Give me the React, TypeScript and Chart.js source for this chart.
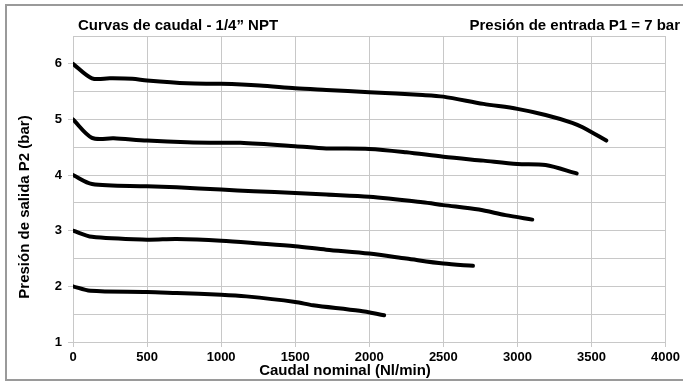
import React, { useEffect, useRef } from "react";
import { Chart, registerables } from "chart.js";

Chart.register(...registerables);

const chartTitle = "Curvas de caudal - 1/4\u201D NPT";
const chartSubtitle = "Presión de entrada P1 = 7 bar";
const xAxisTitle = "Caudal nominal (Nl/min)";
const yAxisTitle = "Presión de salida P2 (bar)";

const flow6 = [0, 128, 250, 400, 500, 770, 1000, 1260, 1500, 1710, 2000, 2360, 2500, 2770, 3000, 3190, 3370, 3440, 3600];
const p6 = [6.0, 5.74, 5.74, 5.73, 5.7, 5.65, 5.64, 5.61, 5.56, 5.53, 5.49, 5.44, 5.41, 5.28, 5.19, 5.08, 4.94, 4.86, 4.62];

const flow5 = [0, 128, 275, 500, 770, 1000, 1130, 1500, 1710, 2000, 2250, 2500, 2770, 3000, 3190, 3400];
const p5 = [5.0, 4.67, 4.66, 4.62, 4.59, 4.58, 4.58, 4.52, 4.48, 4.47, 4.41, 4.33, 4.26, 4.2, 4.18, 4.03];

const flow4 = [0, 128, 500, 700, 1000, 1220, 1500, 1710, 2000, 2360, 2500, 2740, 2920, 3100];
const p4 = [4.0, 3.84, 3.8, 3.78, 3.74, 3.71, 3.68, 3.65, 3.61, 3.51, 3.46, 3.38, 3.28, 3.2];

const flow3 = [0, 128, 500, 700, 1000, 1260, 1500, 1710, 2000, 2250, 2500, 2700];
const p3 = [3.0, 2.89, 2.84, 2.85, 2.82, 2.77, 2.72, 2.66, 2.59, 2.5, 2.41, 2.37];

const flow2 = [0, 117, 500, 700, 1000, 1170, 1500, 1620, 1935, 2100];
const p2 = [2.0, 1.92, 1.9, 1.88, 1.85, 1.82, 1.72, 1.66, 1.56, 1.48];

const xMin = 0;
const xMax = 4000;
const xStep = 500;
const yMin = 1;
const yMax = 6.5;
const yStep = 0.5;

const FONT = "'Liberation Sans', Arial, Helvetica, sans-serif";

function toPoints(xs: number[], ys: number[]) {
  return xs.map((x, i) => ({ x, y: ys[i] }));
}

const textPlugin = {
  id: "customTexts",
  afterDraw(chart: any) {
    const ctx = chart.ctx;
    ctx.save();
    ctx.fillStyle = "#000";
    ctx.font = `bold 15px ${FONT}`;
    ctx.textBaseline = "alphabetic";
    ctx.textAlign = "left";
    ctx.fillText(chartTitle, 78, 30);
    ctx.textAlign = "right";
    ctx.fillText(chartSubtitle, 680, 30);
    ctx.textAlign = "center";
    ctx.textBaseline = "middle";
    ctx.fillText(xAxisTitle, 345, 371);
    ctx.translate(25, 207);
    ctx.rotate(-Math.PI / 2);
    ctx.fillText(yAxisTitle, 0, 0);
    ctx.restore();
  },
};

function ChartView() {
  const ref = useRef<HTMLCanvasElement | null>(null);
  useEffect(() => {
    if (!ref.current) return;
    const mk = (xs: number[], ys: number[], label: string) => ({
      label,
      data: toPoints(xs, ys),
      borderColor: "#000",
      backgroundColor: "#000",
      borderWidth: 4,
      borderCapStyle: "round" as const,
      borderJoinStyle: "round" as const,
      pointRadius: 0,
      tension: 0.3,
      fill: false,
    });
    const chart = new Chart(ref.current, {
      type: "line",
      data: {
        datasets: [
          mk(flow6, p6, "6 bar"),
          mk(flow5, p5, "5 bar"),
          mk(flow4, p4, "4 bar"),
          mk(flow3, p3, "3 bar"),
          mk(flow2, p2, "2 bar"),
        ],
      },
      options: {
        animation: false,
        responsive: false,
        maintainAspectRatio: false,
        layout: { padding: { top: 36, right: 17, left: 0, bottom: 0 } },
        plugins: {
          legend: { display: false },
          tooltip: { enabled: false },
          title: { display: false },
        },
        scales: {
          x: {
            type: "linear",
            min: xMin,
            max: xMax,
            afterFit: (s: any) => {
              s.height = 43;
            },
            ticks: {
              stepSize: xStep,
              color: "#000",
              font: { family: FONT, size: 13, weight: "bold" },
              padding: 3,
              maxRotation: 0,
              callback: (v: any) => String(v),
            },
            grid: {
              color: "#c8c8c8",
              lineWidth: 1,
              tickLength: 5,
              tickColor: "#c8c8c8",
            },
            border: { color: "#c8c8c8" },
          },
          y: {
            type: "linear",
            min: yMin,
            max: yMax,
            afterFit: (s: any) => {
              s.width = 73;
            },
            ticks: {
              stepSize: yStep,
              color: "#000",
              font: { family: FONT, size: 13, weight: "bold" },
              padding: 6,
              callback: (v: any) => (Number.isInteger(Number(v)) ? String(v) : ""),
            },
            grid: {
              color: "#c8c8c8",
              lineWidth: 1,
              tickLength: 5,
              tickColor: (c: any) =>
                c.tick && Number.isInteger(c.tick.value) ? "#c8c8c8" : "rgba(0,0,0,0)",
            },
            border: { color: "#c8c8c8" },
          },
        },
      },
      plugins: [textPlugin],
    });
    return () => chart.destroy();
  }, []);
  return <canvas ref={ref} width={683} height={385} style={{ display: "block", width: 683, height: 385 }} />;
}

export default function App() {
  return (
    <div style={{ position: "fixed", left: 0, top: 0, width: 683, height: 385, background: "#fff", overflow: "hidden" }}>
      <div
        style={{
          position: "absolute",
          left: 5,
          top: 4,
          width: 700,
          height: 377,
          border: "2px solid #9a9a9a",
          boxSizing: "border-box",
        }}
      />
      <div style={{ position: "absolute", left: 0, top: 0 }}>
        <ChartView />
      </div>
    </div>
  );
}
